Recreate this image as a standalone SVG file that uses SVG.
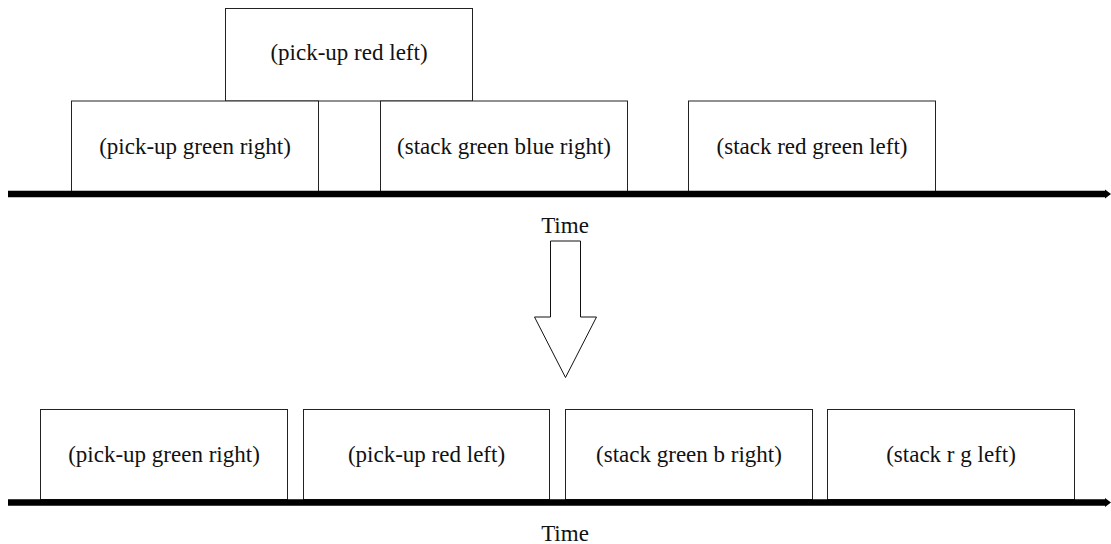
<svg xmlns="http://www.w3.org/2000/svg" width="1111" height="544" viewBox="0 0 1111 544">
  <style>
    .box { fill: #ffffff; stroke: #222222; stroke-width: 1; }
    .lbl { font-family: "Liberation Serif", "DejaVu Serif", serif; font-size: 23px; fill: #111111; text-anchor: middle; }
    .axis { stroke: #000000; stroke-width: 6.5; fill: none; }
    .big { fill: #ffffff; stroke: #111111; stroke-width: 1; stroke-linejoin: miter; }
  </style>
  <rect width="1111" height="544" fill="#ffffff"/>

  <!-- top timeline nodes -->
  <g id="top-pickup-red-left">
    <rect class="box" x="225.5" y="8.5" width="247" height="92.5"/>
    <text class="lbl" x="349" y="60">(pick-up red left)</text>
  </g>
  <g id="top-pickup-green-right">
    <rect class="box" x="71.5" y="101" width="247" height="91"/>
    <text class="lbl" x="195" y="154">(pick-up green right)</text>
  </g>
  <g id="top-stack-green-blue-right">
    <rect class="box" x="380.5" y="101" width="247" height="91"/>
    <text class="lbl" x="504" y="154">(stack green blue right)</text>
  </g>
  <g id="top-stack-red-green-left">
    <rect class="box" x="688.5" y="101" width="247" height="91"/>
    <text class="lbl" x="812" y="154">(stack red green left)</text>
  </g>
  <g id="top-time-label">
    <text class="lbl" x="565" y="233">Time</text>
  </g>

  <!-- bottom timeline nodes -->
  <g id="bot-pickup-green-right">
    <rect class="box" x="40.5" y="409.5" width="247" height="90"/>
    <text class="lbl" x="164" y="462">(pick-up green right)</text>
  </g>
  <g id="bot-pickup-red-left">
    <rect class="box" x="303.5" y="409.5" width="246" height="90"/>
    <text class="lbl" x="426.5" y="462">(pick-up red left)</text>
  </g>
  <g id="bot-stack-green-b-right">
    <rect class="box" x="565.5" y="409.5" width="247" height="90"/>
    <text class="lbl" x="689" y="462">(stack green b right)</text>
  </g>
  <g id="bot-stack-r-g-left">
    <rect class="box" x="827.5" y="409.5" width="247" height="90"/>
    <text class="lbl" x="951" y="462">(stack r g left)</text>
  </g>
  <g id="bot-time-label">
    <text class="lbl" x="565" y="541">Time</text>
  </g>

  <!-- connectors -->
  <g id="connectors">
    <line class="axis" x1="8" y1="194" x2="1106" y2="194"/>
    <polygon points="1105,189.5 1111,194 1105,198.5" fill="#000000"/>
    <line class="axis" x1="8" y1="502.5" x2="1106" y2="502.5"/>
    <polygon points="1105,498 1111,502.5 1105,507" fill="#000000"/>
    <polygon class="big" points="550.5,241 580.5,241 580.5,317 596.5,317 565.5,377.5 534.5,317 550.5,317"/>
  </g>
</svg>
